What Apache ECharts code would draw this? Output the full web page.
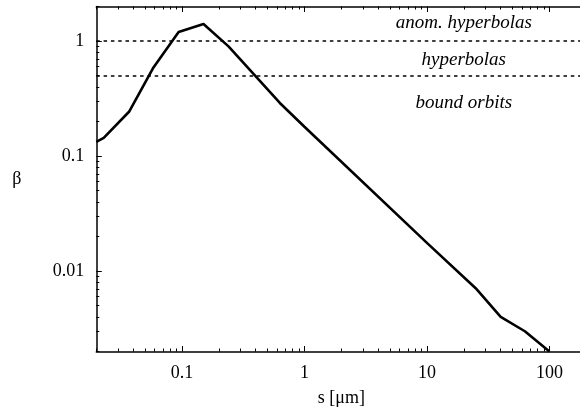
<!DOCTYPE html>
<html>
<head>
<meta charset="utf-8">
<script src="https://cdn.jsdelivr.net/npm/echarts@6/dist/echarts.min.js"></script>
<style>
  html, body { margin: 0; padding: 0; background: #fff; }
  #chart { width: 580px; height: 414px; }
</style>
</head>
<body>
<div id="chart"></div>
<script>
// Radiation pressure parameter beta versus grain size s
const sizes = [0.02, 0.023, 0.037, 0.058, 0.094, 0.15, 0.24, 0.63, 1, 10, 25, 40, 63, 100];
const betas = [0.133, 0.144, 0.243, 0.58, 1.2, 1.41, 0.9, 0.29, 0.18, 0.0176, 0.0071, 0.004, 0.003, 0.002];

// Orbit regime boundaries (beta = 1 and beta = 0.5)
const boundaries = [1, 0.5];

// Regime labels and their anchor positions
const regimeNames = ['anom. hyperbolas', 'hyperbolas', 'bound orbits'];
const regimeX = [20, 20, 20];
const regimeY = [1.44, 0.684, 0.29];

// Axis ranges and tick labels
const xRange = [0.02, 200];
const yRange = [0.002, 2];
const xMajor = [0.1, 1, 10, 100];
const yMajor = [0.01, 0.1, 1];
const xDecades = [-2, -1, 0, 1, 2];
const yDecades = [-3, -2, -1, 0];

function minorTicks(decades, range) {
  const out = [];
  decades.forEach(function (d) {
    for (let m = 2; m <= 9; m++) {
      const v = m * Math.pow(10, d);
      if (v >= range[0] * 0.999 && v <= range[1] * 1.001) out.push(v);
    }
  });
  return out;
}
const lg = function (v) { return Math.log10(v); };
const xMinor = minorTicks(xDecades, xRange);
const yMinor = minorTicks(yDecades, yRange);

const FONT = 'Liberation Serif';
const INK = '#000';
// plot frame: 4 x-decades and 3 y-decades; the right edge runs past the canvas
const gridRect = { left: 96.3, top: 6.5, width: 490, height: 345, outerBoundsMode: 'none', containLabel: false };

function fmt(v) { return String(+(+v).toPrecision(6)); }

// log axes that carry the data, frame lines and tick labels
function dataXAxis(position, labelled) {
  return {
    type: 'log', logBase: 10, gridIndex: 0, position: position,
    min: xRange[0], max: xRange[1],
    axisLine: { show: true, onZero: false, lineStyle: { color: INK, width: 1.5 } },
    axisTick: { show: false },
    axisLabel: labelled ? {
      show: true, customValues: xMajor, margin: 13, color: INK,
      fontFamily: FONT, fontSize: 18, formatter: fmt
    } : { show: false },
    splitLine: { show: false },
    name: labelled ? 's [\u03bcm]' : '',
    nameLocation: 'middle', nameGap: 38,
    nameTextStyle: { color: INK, fontFamily: FONT, fontSize: 18 }
  };
}
function dataYAxis(position, labelled) {
  return {
    type: 'log', logBase: 10, gridIndex: 0, position: position,
    min: yRange[0], max: yRange[1],
    axisLine: { show: true, onZero: false, lineStyle: { color: INK, width: 1.5 } },
    axisTick: { show: false },
    axisLabel: labelled ? {
      show: true, customValues: yMajor, margin: 12, color: INK,
      fontFamily: FONT, fontSize: 18, formatter: fmt
    } : { show: false },
    splitLine: { show: false },
    name: labelled ? '\u03b2' : '',
    nameLocation: 'middle', nameGap: 75, nameRotate: 0,
    nameTextStyle: { color: INK, fontFamily: FONT, fontSize: 18 }
  };
}

// inward tick marks, drawn on decade (log10) scaled axes of overlay grids
function tickAxis(gridIndex, position, range, ticks, len) {
  return {
    type: 'value', gridIndex: gridIndex, position: position,
    min: lg(range[0]), max: lg(range[1]),
    axisLine: { show: false, onZero: false },
    axisTick: { show: true, inside: true, length: len, customValues: ticks.map(lg), lineStyle: { color: INK, width: 1 } },
    axisLabel: { show: false },
    splitLine: { show: false }
  };
}

const curve = sizes.map(function (s, i) { return [s, betas[i]]; });
const regimes = regimeNames.map(function (n, i) { return { name: n, value: [regimeX[i], regimeY[i]] }; });

const chart = echarts.init(document.getElementById('chart'), null, { renderer: 'canvas' });
chart.setOption({
  animation: false,
  backgroundColor: '#fff',
  grid: [Object.assign({}, gridRect), Object.assign({}, gridRect), Object.assign({}, gridRect)],
  xAxis: [
    dataXAxis('bottom', true),
    dataXAxis('top', false),
    tickAxis(1, 'bottom', xRange, xMinor, 3),
    tickAxis(1, 'top', xRange, xMinor, 3),
    tickAxis(2, 'bottom', xRange, xMajor, 5.5),
    tickAxis(2, 'top', xRange, xMajor, 5.5)
  ],
  yAxis: [
    dataYAxis('left', true),
    dataYAxis('right', false),
    tickAxis(1, 'left', yRange, yMinor, 3),
    tickAxis(1, 'right', yRange, yMinor, 3),
    tickAxis(2, 'left', yRange, yMajor, 5.5),
    tickAxis(2, 'right', yRange, yMajor, 5.5)
  ],
  series: [
    {
      type: 'line', xAxisIndex: 0, yAxisIndex: 0,
      data: curve, showSymbol: false, symbol: 'none',
      lineStyle: { color: INK, width: 2.6 },
      clip: true, z: 3,
      markLine: {
        silent: true, symbol: ['none', 'none'],
        label: { show: false },
        lineStyle: { color: INK, width: 1.5, type: [3.5, 3.8] },
        data: boundaries.map(function (b) { return { yAxis: b }; })
      }
    },
    {
      type: 'scatter', xAxisIndex: 0, yAxisIndex: 0,
      data: regimes, symbolSize: 0, silent: true,
      itemStyle: { color: INK },
      label: {
        show: true, position: [0, 0], align: 'center', verticalAlign: 'middle',
        formatter: '{b}', color: INK, opacity: 1,
        fontFamily: FONT, fontStyle: 'italic', fontSize: 19
      }
    }
  ]
});
</script>
</body>
</html>
